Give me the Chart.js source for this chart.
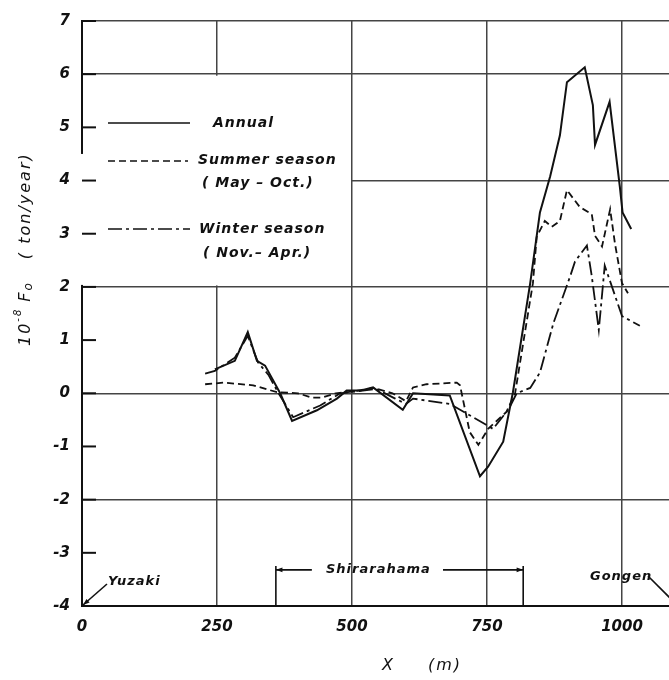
<!DOCTYPE html>
<html>
<head>
<meta charset="utf-8">
<script src="https://cdn.jsdelivr.net/npm/chart.js@4.4.0/dist/chart.umd.min.js"></script>
<style>
  body { margin: 0; background: #fff; }
  #wrap { width: 669px; height: 680px; }
</style>
</head>
<body>
<div id="wrap"><canvas id="fo"></canvas></div>
<script>
// distance along the beach (m) and 10^-8 Fo (ton/year)
var annualX = [246, 283, 307, 324, 339, 367, 389, 435, 472, 490, 515, 539, 594, 613, 681, 737, 752, 780, 798, 830, 848, 867, 885, 898, 931, 946, 950, 977, 996, 1001, 1017];
var annualY = [0.45, 0.61, 1.15, 0.61, 0.52, 0.0, -0.52, -0.32, -0.1, 0.05, 0.05, 0.11, -0.31, 0.0, -0.04, -1.56, -1.38, -0.91, 0.02, 2.07, 3.4, 4.08, 4.85, 5.85, 6.13, 5.42, 4.67, 5.48, 3.88, 3.4, 3.09];

var summerX = [228, 262, 317, 361, 400, 425, 445, 470, 500, 540, 575, 600, 613, 638, 694, 700, 718, 734, 752, 786, 802, 835, 842, 857, 870, 885, 898, 922, 944, 950, 963, 978, 987, 1000, 1011];
var summerY = [0.17, 0.2, 0.15, 0.02, 0.0, -0.08, -0.08, 0.0, 0.03, 0.1, 0.0, -0.15, 0.11, 0.17, 0.2, 0.15, -0.73, -0.97, -0.67, -0.35, 0.0, 2.07, 2.94, 3.24, 3.13, 3.24, 3.82, 3.5, 3.37, 2.96, 2.76, 3.46, 2.81, 2.07, 1.88];

var winterX = [228, 246, 283, 307, 326, 345, 364, 391, 441, 478, 520, 545, 580, 600, 613, 681, 750, 761, 790, 805, 830, 848, 873, 904, 913, 935, 944, 957, 968, 1000, 1033];
var winterY = [0.37, 0.42, 0.67, 1.08, 0.58, 0.35, 0.0, -0.45, -0.23, 0.0, 0.05, 0.08, -0.1, -0.2, -0.1, -0.2, -0.6, -0.67, -0.3, 0.0, 0.1, 0.39, 1.32, 2.2, 2.48, 2.78, 2.2, 1.19, 2.4, 1.45, 1.27];

var xTicks = [0, 250, 500, 750, 1000];
var yTicks = [-4, -3, -2, -1, 0, 1, 2, 3, 4, 5, 6, 7];

function pts(xs, ys) {
  return xs.map(function (x, i) { return { x: x, y: ys[i] }; });
}

var INK = '#111';
var FONT = '"DejaVu Sans"';

var cover = {
  id: 'cover',
  beforeDatasetsDraw: function (chart) {
    var c = chart.ctx, sx = chart.scales.x, sy = chart.scales.y;
    var l = sx.getPixelForValue(0), r = sx.getPixelForValue(500);
    var t = sy.getPixelForValue(6), b = sy.getPixelForValue(2);
    c.save();
    c.fillStyle = '#fff';
    c.fillRect(l + 1, t + 1.5, r - l - 2, b - t - 3);
    c.fillRect(l - 3, sy.getPixelForValue(4.5), 6, b - sy.getPixelForValue(4.5) - 2);
    // inward ticks
    c.strokeStyle = INK;
    c.lineWidth = 2;
    yTicks.forEach(function (v) {
      var y = sy.getPixelForValue(v);
      c.beginPath();
      c.moveTo(l, y);
      c.lineTo(l + 14, y);
      c.stroke();
    });
    c.restore();
  },
  afterDraw: function (chart) {
    var c = chart.ctx, sx = chart.scales.x, sy = chart.scales.y;
    c.save();
    c.fillStyle = INK;
    c.strokeStyle = INK;
    c.lineWidth = 1.6;
    c.textBaseline = 'middle';
    c.letterSpacing = '1px';
    c.font = 'italic 600 14px ' + FONT;

    // legend
    function leg(y, dash, x1, x2) {
      c.setLineDash(dash);
      c.beginPath();
      c.moveTo(x1, y);
      c.lineTo(x2, y);
      c.stroke();
      c.setLineDash([]);
    }
    leg(123, [], 108, 190);
    c.fillText('Annual', 213, 123);
    leg(161, [7, 4], 108, 188);
    c.fillText('Summer season', 198, 160);
    c.fillText('( May \u2013 Oct.)', 202, 183);
    leg(229, [14, 4, 3, 4], 108, 190);
    c.fillText('Winter season', 199, 229);
    c.fillText('( Nov.\u2013 Apr.)', 203, 253);

    // place annotations
    c.font = 'italic 600 13px ' + FONT;
    var yb = sy.getPixelForValue(-4);
    var ya = sy.getPixelForValue(-3.32);
    c.fillText('Yuzaki', 108, 582);
    c.beginPath();
    c.moveTo(107, 584);
    c.lineTo(sx.getPixelForValue(0) + 1, yb - 1);
    c.stroke();
    arrowHead(sx.getPixelForValue(0) + 1, yb - 1, Math.atan2(yb - 585, sx.getPixelForValue(0) - 107));

    var xl = sx.getPixelForValue(359), xr = sx.getPixelForValue(817);
    c.beginPath();
    c.moveTo(xl, sy.getPixelForValue(-3.25)); c.lineTo(xl, yb);
    c.moveTo(xr, sy.getPixelForValue(-3.25)); c.lineTo(xr, yb);
    c.moveTo(xl, ya); c.lineTo(xl + 36, ya);
    c.moveTo(443, ya); c.lineTo(xr, ya);
    c.stroke();
    arrowHead(xl, ya, Math.PI);
    arrowHead(xr, ya, 0);
    c.fillText('Shirarahama', 326, ya);

    c.fillText('Gongen', 590, 577);
    c.beginPath();
    c.moveTo(648, 576);
    c.lineTo(672, 600);
    c.stroke();

    function arrowHead(x, y, a) {
      c.beginPath();
      c.moveTo(x, y);
      c.lineTo(x - 7 * Math.cos(a - 0.35), y - 7 * Math.sin(a - 0.35));
      c.lineTo(x - 7 * Math.cos(a + 0.35), y - 7 * Math.sin(a + 0.35));
      c.closePath();
      c.fill();
    }

    // axis titles
    c.letterSpacing = '2px';
    c.font = 'italic 16px ' + FONT;
    c.textBaseline = 'alphabetic';
    c.fillText('X', 382, 670);
    c.fillText('(m)', 428, 670);

    c.translate(30, 346);
    c.rotate(-Math.PI / 2);
    var x = 0;
    c.fillText('10', x, 0); x += c.measureText('10').width;
    c.font = 'italic 10px ' + FONT;
    c.fillText('-8', x, -9); x += c.measureText('-8').width + 6;
    c.font = 'italic 16px ' + FONT;
    c.fillText('F', x, 0); x += c.measureText('F').width;
    c.font = 'italic 12px ' + FONT;
    c.fillText('o', x, 2); x += c.measureText('o').width + 22;
    c.font = 'italic 16px ' + FONT;
    c.fillText('( ton/year)', x, 0);
    c.restore();
  }
};

new Chart(document.getElementById('fo'), {
  type: 'line',
  data: {
    datasets: [
      { label: 'Annual', data: pts(annualX, annualY), borderColor: INK, borderWidth: 2 },
      { label: 'Summer season', data: pts(summerX, summerY), borderColor: INK, borderWidth: 1.8, borderDash: [7, 4] },
      { label: 'Winter season', data: pts(winterX, winterY), borderColor: INK, borderWidth: 1.8, borderDash: [14, 4, 3, 4] }
    ]
  },
  options: {
    responsive: true,
    maintainAspectRatio: false,
    animation: false,
    layout: { padding: { top: 12, right: 0, left: 0, bottom: 0 } },
    elements: { point: { radius: 0 }, line: { tension: 0 } },
    plugins: { legend: { display: false }, tooltip: { enabled: false } },
    scales: {
      x: {
        type: 'linear',
        min: 0,
        max: 1087,
        afterBuildTicks: function (s) { s.ticks = xTicks.map(function (v) { return { value: v }; }); },
        afterFit: function (s) { s.height = 74; },
        ticks: {
          color: INK,
          padding: 12,
          font: { family: 'DejaVu Sans', style: 'italic', weight: 'bold', size: 15 },
          callback: function (v) { return String(v); }
        },
        grid: { color: '#444', lineWidth: 1.5, drawTicks: false },
        border: { color: INK, width: 2 }
      },
      y: {
        min: -4,
        max: 7,
        afterBuildTicks: function (s) { s.ticks = yTicks.map(function (v) { return { value: v }; }); },
        afterFit: function (s) { s.width = 82; },
        ticks: {
          color: INK,
          padding: 12,
          font: { family: 'DejaVu Sans', style: 'italic', weight: 'bold', size: 15 },
          callback: function (v) { return String(v); }
        },
        grid: {
          color: function (c) { return (c.tick && c.tick.value % 2 === 0) || (c.tick && c.tick.value === 7) ? '#444' : 'rgba(0,0,0,0)'; },
          lineWidth: 1.5,
          drawTicks: false
        },
        border: { color: INK, width: 2 }
      }
    }
  },
  plugins: [cover]
});
</script>
</body>
</html>
